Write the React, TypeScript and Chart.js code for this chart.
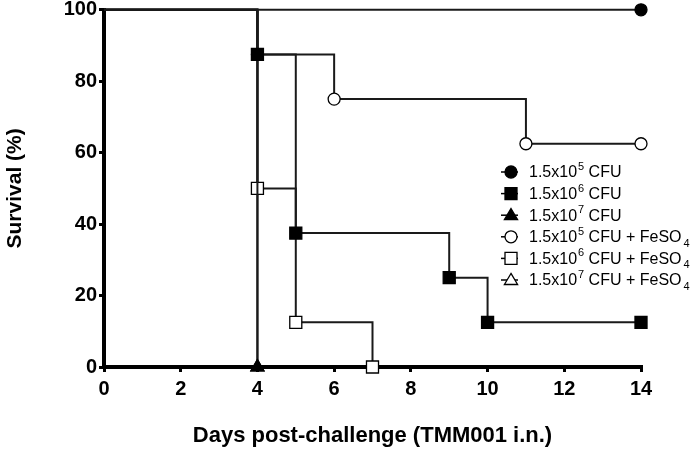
import React, { useEffect, useRef } from 'react';
import { Chart, registerables } from 'chart.js';

Chart.register(...registerables);

// ---- Data ----
const xTickValues = [0, 2, 4, 6, 8, 10, 12, 14];
const yTickValues = [0, 20, 40, 60, 80, 100];

const days105 = [0, 14];
const surv105 = [100, 100];
const days106 = [0, 4, 5, 9, 10, 14];
const surv106 = [100, 87.5, 37.5, 25, 12.5, 12.5];
const days107 = [0, 4];
const surv107 = [100, 0];
const days105Fe = [0, 4, 6, 11, 14];
const surv105Fe = [100, 87.5, 75, 62.5, 62.5];
const days106Fe = [0, 4, 5, 7];
const surv106Fe = [100, 50, 12.5, 0];
const days107Fe = [0, 4];
const surv107Fe = [100, 0];

const labelBase = ['1.5x10', '1.5x10', '1.5x10', '1.5x10', '1.5x10', '1.5x10'];
const labelExp = ['5', '6', '7', '5', '6', '7'];
const labelRest = [' CFU', ' CFU', ' CFU', ' CFU + FeSO', ' CFU + FeSO', ' CFU + FeSO'];
const labelSub = ['', '', '', '4', '4', '4'];

const seriesStyles = ['circle', 'rect', 'triangle', 'circle', 'rect', 'triangle'];
const seriesFilled = [true, true, true, false, false, false];

const seriesDays = [days105, days106, days107, days105Fe, days106Fe, days107Fe];
const seriesSurv = [surv105, surv106, surv107, surv105Fe, surv106Fe, surv107Fe];

const FONT = '"Liberation Sans", Arial, sans-serif';

function markerRadius(style: string) {
  if (style === 'rect') return 8.5;
  if (style === 'triangle') return 7.5;
  return 6;
}

function drawMarker(ctx: CanvasRenderingContext2D, style: string, x: number, y: number, s: number, filled: boolean) {
  ctx.beginPath();
  if (style === 'circle') {
    ctx.arc(x, y, s, 0, Math.PI * 2);
  } else if (style === 'rect') {
    ctx.rect(x - s, y - s, 2 * s, 2 * s);
  } else {
    ctx.moveTo(x, y - s * 1.1);
    ctx.lineTo(x + s * 1.1, y + s * 0.75);
    ctx.lineTo(x - s * 1.1, y + s * 0.75);
    ctx.closePath();
  }
  ctx.fillStyle = filled ? '#000' : '#fff';
  ctx.fill();
  ctx.lineWidth = 1.3;
  ctx.strokeStyle = '#000';
  ctx.stroke();
}

const legendPlugin = {
  id: 'customLegend',
  afterDraw(chart: any) {
    const ctx: CanvasRenderingContext2D = chart.ctx;
    const mx = 511;
    const tx = 529;
    const y0 = 172;
    const dy = 21.6;
    ctx.save();
    for (let i = 0; i < labelBase.length; i++) {
      const y = y0 + i * dy;
      ctx.beginPath();
      ctx.moveTo(mx - 10, y);
      ctx.lineTo(mx + 7, y);
      ctx.lineWidth = 1.5;
      ctx.strokeStyle = '#000';
      ctx.stroke();
      drawMarker(ctx, seriesStyles[i], mx, y, 6, seriesFilled[i]);

      ctx.fillStyle = '#000';
      ctx.textBaseline = 'middle';
      ctx.textAlign = 'left';
      ctx.font = `16px ${FONT}`;
      let x = tx;
      ctx.fillText(labelBase[i], x, y + 1);
      x += ctx.measureText(labelBase[i]).width + 1;
      ctx.font = `11px ${FONT}`;
      ctx.fillText(labelExp[i], x, y - 5);
      x += ctx.measureText(labelExp[i]).width;
      ctx.font = `16px ${FONT}`;
      ctx.fillText(labelRest[i], x, y + 1);
      x += ctx.measureText(labelRest[i]).width + 2;
      if (labelSub[i]) {
        ctx.font = `11px ${FONT}`;
        ctx.fillText(labelSub[i], x, y + 7);
      }
    }
    ctx.restore();
  },
};

export default function App() {
  const canvasRef = useRef<HTMLCanvasElement | null>(null);

  useEffect(() => {
    document.body.style.margin = '0';
    const canvas = canvasRef.current;
    if (!canvas) return;

    const datasets = seriesDays.map((days, si) => ({
      label: labelBase[si] + labelExp[si] + labelRest[si] + labelSub[si],
      data: days.map((d, i) => ({ x: d, y: seriesSurv[si][i] })),
      stepped: true as const,
      borderColor: '#1a1a1a',
      borderWidth: 2,
      fill: false,
      pointStyle: seriesStyles[si],
      pointRadius: days.map((_, i) => (i === 0 ? 0 : markerRadius(seriesStyles[si]))),
      pointBackgroundColor: seriesFilled[si] ? '#000' : '#fff',
      pointBorderColor: '#000',
      pointBorderWidth: 1.3,
      clip: false as any,
    }));

    const chart = new Chart(canvas, {
      type: 'line',
      data: { datasets },
      plugins: [legendPlugin],
      options: {
        animation: false,
        responsive: false,
        events: [],
        layout: { padding: { left: 0, right: 54, top: 9, bottom: 0 } },
        plugins: {
          legend: { display: false },
          tooltip: { enabled: false },
        },
        scales: {
          x: {
            type: 'linear',
            min: 0,
            max: 14,
            afterBuildTicks: (scale: any) => {
              scale.ticks = xTickValues.map((v) => ({ value: v }));
            },
            afterFit: (scale: any) => {
              scale.height = 82;
              scale.paddingLeft = 0;
              scale.paddingRight = 0;
            },
            ticks: {
              color: '#000',
              font: { family: FONT, size: 20, weight: 'bold' },
              padding: 5,
              maxRotation: 0,
              autoSkip: false,
            },
            grid: {
              drawOnChartArea: false,
              drawTicks: true,
              tickLength: 5,
              color: '#000',
              lineWidth: 3,
            },
            border: { display: true, color: '#000', width: 4 },
            title: {
              display: true,
              text: 'Days post-challenge (TMM001 i.n.)',
              color: '#000',
              font: { family: FONT, size: 22, weight: 'bold' },
              padding: { top: 0, bottom: 0 },
            },
          },
          y: {
            type: 'linear',
            min: 0,
            max: 100,
            afterBuildTicks: (scale: any) => {
              scale.ticks = yTickValues.map((v) => ({ value: v }));
            },
            afterFit: (scale: any) => {
              scale.width = 104;
              scale.paddingTop = 0;
              scale.paddingBottom = 0;
            },
            ticks: {
              color: '#000',
              font: { family: FONT, size: 20, weight: 'bold' },
              padding: 2,
              autoSkip: false,
            },
            grid: {
              drawOnChartArea: false,
              drawTicks: true,
              tickLength: 5,
              color: '#000',
              lineWidth: 3,
            },
            border: { display: true, color: '#000', width: 4 },
            title: {
              display: true,
              text: 'Survival (%)',
              color: '#000',
              font: { family: FONT, size: 21, weight: 'bold' },
              padding: { top: 3, bottom: 0 },
            },
          },
        },
      },
    } as any);

    return () => {
      chart.destroy();
    };
  }, []);

  return (
    <div style={{ width: 695, height: 449, position: 'relative', background: '#fff' }}>
      <canvas ref={canvasRef} width={695} height={449} style={{ display: 'block' }} />
    </div>
  );
}
